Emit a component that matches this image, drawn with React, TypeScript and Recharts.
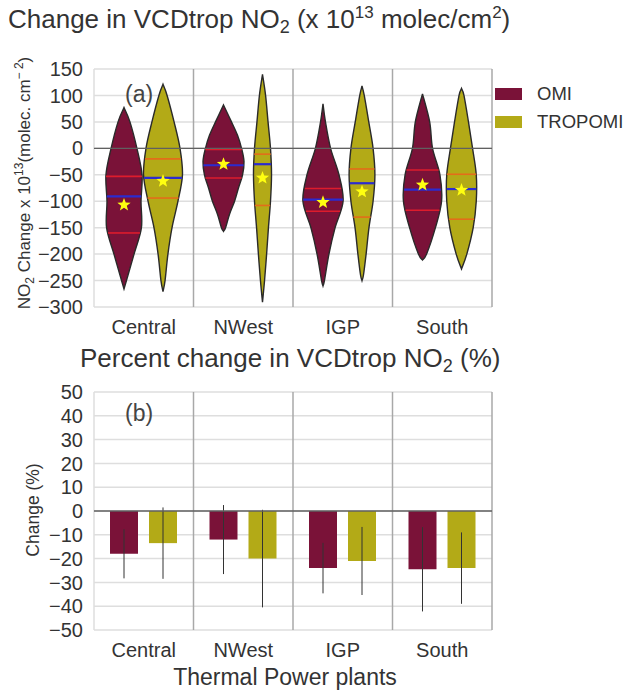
import React from "react";
import { BarChart, Bar, XAxis, YAxis, CartesianGrid, ReferenceLine, ErrorBar } from "recharts";

const categories = ["Central", "NWest", "IGP", "South"];

// (a) absolute change, x 10^13 molec/cm2
const omiMin = [-266, -157, -260, -211];
const omiMax = [77, 82, 84, 103];
const omiQ1 = [-160, -56, -119, -117];
const omiMedian = [-91, -32, -97, -78];
const omiQ3 = [-53, -2, -76, -41];
const omiMean = [-107, -30, -102, -69];

const tropMin = [-271, -291, -250, -228];
const tropMax = [121, 140, 118, 113];
const tropQ1 = [-94, -108, -130, -134];
const tropMedian = [-56, -30, -66, -77];
const tropQ3 = [-20, -11, -39, -49];
const tropMean = [-62, -56, -82, -79];

// violin outlines: [value, relative half width]
const omiProfiles = [
  [[77, 0], [50, 0.29], [0, 0.63], [-50, 0.88], [-100, 0.83], [-150, 0.85], [-200, 0.49], [-250, 0.12], [-266, 0]],
  [[82, 0], [50, 0.39], [25, 0.68], [0, 0.88], [-25, 1.0], [-50, 0.93], [-75, 0.73], [-100, 0.54], [-125, 0.29], [-150, 0.1], [-157, 0]],
  [[84, 0], [50, 0.12], [0, 0.37], [-50, 0.78], [-100, 0.98], [-150, 0.59], [-200, 0.29], [-250, 0.07], [-260, 0]],
  [[103, 0], [50, 0.35], [0, 0.49], [-50, 0.85], [-100, 0.93], [-150, 0.63], [-200, 0.2], [-211, 0]],
];
const tropProfiles = [
  [[121, 0], [100, 0.2], [50, 0.54], [0, 0.83], [-50, 0.95], [-100, 0.73], [-150, 0.44], [-200, 0.24], [-250, 0.1], [-271, 0]],
  [[140, 0], [100, 0.15], [50, 0.27], [0, 0.39], [-50, 0.44], [-100, 0.39], [-150, 0.29], [-200, 0.2], [-250, 0.1], [-291, 0]],
  [[118, 0], [100, 0.11], [50, 0.33], [0, 0.54], [-50, 0.63], [-100, 0.54], [-150, 0.34], [-200, 0.2], [-240, 0.07], [-250, 0]],
  [[113, 0], [100, 0.12], [50, 0.34], [0, 0.54], [-50, 0.72], [-100, 0.72], [-150, 0.57], [-200, 0.26], [-228, 0]],
];

const absTicks = [150, 100, 50, 0, -50, -100, -150, -200, -250, -300];

// (b) percent change
const omiPct = [-18, -12, -24, -24.5];
const omiPctErr = [10.3, 14.5, 10.6, 17.7];
const tropPct = [-13.5, -20, -21, -24];
const tropPctErr = [15, 20.5, 14.3, 15];
const pctTicks = [50, 40, 30, 20, 10, 0, -10, -20, -30, -40, -50];

const OMI = "#7a1238";
const TROP = "#b3aa17";
const FONT = "'Liberation Sans', Arial, Helvetica, sans-serif";
const TXT = "#333";

const violinRows = categories.map((c, i) => ({
  name: c,
  omi: [omiMin[i], omiMax[i]],
  trop: [tropMin[i], tropMax[i]],
}));

const pctRows = categories.map((c, i) => ({
  name: c,
  omi: omiPct[i],
  omiErr: omiPctErr[i],
  trop: tropPct[i],
  tropErr: tropPctErr[i],
}));

const minus = (v: number) => String(v).replace("-", "\u2212");

function halfAt(profile: number[][], v: number) {
  for (let i = 0; i < profile.length - 1; i++) {
    const [v1, d1] = profile[i];
    const [v2, d2] = profile[i + 1];
    if (v <= v1 && v >= v2) return d1 + ((v1 - v) / (v1 - v2)) * (d2 - d1);
  }
  return 0;
}

function spline(pts: number[][]) {
  let d = "";
  for (let i = 0; i < pts.length - 1; i++) {
    const p0 = pts[i - 1] || pts[i];
    const p1 = pts[i];
    const p2 = pts[i + 1];
    const p3 = pts[i + 2] || pts[i + 1];
    const c1x = p1[0] + (p2[0] - p0[0]) / 6;
    const c1y = p1[1] + (p2[1] - p0[1]) / 6;
    const c2x = p2[0] - (p3[0] - p1[0]) / 6;
    const c2y = p2[1] - (p3[1] - p1[1]) / 6;
    d += ` C${c1x},${c1y} ${c2x},${c2y} ${p2[0]},${p2[1]}`;
  }
  return d;
}

function starPath(cx: number, cy: number, r: number) {
  let d = "";
  for (let k = 0; k < 10; k++) {
    const rad = k % 2 === 0 ? r : r * 0.42;
    const a = -Math.PI / 2 + (k * Math.PI) / 5;
    d += (k === 0 ? "M" : "L") + (cx + rad * Math.cos(a)) + "," + (cy + rad * Math.sin(a));
  }
  return d + "Z";
}

const makeViolin = (profiles: number[][][], q1: number[], med: number[], q3: number[], mean: number[],
  fill: string, qColor: string, key: "omi" | "trop") => (props: any) => {
  const { x, y, width, height, payload } = props;
  const i = categories.indexOf(payload.name);
  const [lo, hi] = payload[key];
  const top = Math.min(y, y + height);
  const bottom = Math.max(y, y + height);
  const py = (v: number) => top + ((hi - v) / (hi - lo)) * (bottom - top);
  const cx = x + width / 2;
  const k = width * 0.732;
  const prof = profiles[i];
  const right = prof.map(([v, d]) => [cx + d * k, py(v)]);
  const left = prof.slice().reverse().map(([v, d]) => [cx - d * k, py(v)]);
  const outline = `M${right[0][0]},${right[0][1]}` + spline(right) + spline(left) + "Z";
  const hline = (v: number, color: string, sw: number) => {
    const h = halfAt(prof, v) * k;
    return <line x1={cx - h} x2={cx + h} y1={py(v)} y2={py(v)} stroke={color} strokeWidth={sw} />;
  };
  return (
    <g>
      <path d={outline} fill={fill} stroke="#2a2a2a" strokeWidth={1.4} />
      {hline(q3[i], qColor, 1.6)}
      {hline(q1[i], qColor, 1.6)}
      {hline(med[i], "#2b2bd0", 2.2)}
      <path d={starPath(cx, py(mean[i]), 7)} fill="#ffff10" />
    </g>
  );
};

const gridStroke = "#dedede";
const divStroke = "#a8a8a8";

// panel frame + dividers at category band edges
const frameLines = () => [
  <ReferenceLine key="l" x={categories[0]} position="start" stroke={gridStroke} strokeWidth={1.5} />,
  ...categories.slice(1).map((c) => (
    <ReferenceLine key={c} x={c} position="start" stroke={divStroke} strokeWidth={1.5} />
  )),
  <ReferenceLine key="r" x={categories[categories.length - 1]} position="end" stroke={divStroke} strokeWidth={1.5} />,
];

const tickStyle = { fontSize: 20, fill: TXT, fontFamily: FONT };

export default function App() {
  return (
    <div style={{ position: "absolute", left: 0, top: 0, width: 623, height: 695, background: "#fff", overflow: "hidden", fontFamily: FONT }}>
      {/* (a) violins */}
      <div style={{ position: "absolute", left: 0, top: 0 }}>
        <BarChart width={623} height={345} data={violinRows} margin={{ top: 69, right: 131, bottom: 8, left: 0 }} barSize={28} barGap={11}>
          <CartesianGrid vertical={false} stroke={gridStroke} strokeWidth={1.5} />
          <XAxis dataKey="name" axisLine={false} tickLine={false} tickSize={0} tickMargin={13} height={30}
            tick={tickStyle} interval={0} />
          <YAxis domain={[-300, 150]} ticks={absTicks} width={94} axisLine={false} tickLine={false} tickSize={0} tickMargin={11}
            interval={0} tick={tickStyle} tickFormatter={minus} />
          {frameLines()}
          <ReferenceLine y={0} stroke="#606060" strokeWidth={1.3} />
          <Bar dataKey="omi" isAnimationActive={false}
            shape={makeViolin(omiProfiles, omiQ1, omiMedian, omiQ3, omiMean, OMI, "#dd1c2c", "omi")} />
          <Bar dataKey="trop" isAnimationActive={false}
            shape={makeViolin(tropProfiles, tropQ1, tropMedian, tropQ3, tropMean, TROP, "#e36d1a", "trop")} />
        </BarChart>
      </div>

      {/* (b) percent bars */}
      <div style={{ position: "absolute", left: 0, top: 345 }}>
        <BarChart width={623} height={350} data={pctRows} margin={{ top: 47, right: 131, bottom: 30, left: 0 }} barSize={28} barGap={11}>
          <CartesianGrid vertical={false} stroke={gridStroke} strokeWidth={1.5} />
          <XAxis dataKey="name" axisLine={false} tickLine={false} tickSize={0} tickMargin={13} height={35}
            tick={tickStyle} interval={0} />
          <YAxis domain={[-50, 50]} ticks={pctTicks} width={94} axisLine={false} tickLine={false} tickSize={0} tickMargin={11}
            interval={0} tick={tickStyle} tickFormatter={minus} />
          {frameLines()}
          <Bar dataKey="omi" fill={OMI} isAnimationActive={false}>
            <ErrorBar dataKey="omiErr" width={0} stroke="#333" strokeWidth={1} direction="y" isAnimationActive={false} />
          </Bar>
          <Bar dataKey="trop" fill={TROP} isAnimationActive={false}>
            <ErrorBar dataKey="tropErr" width={0} stroke="#333" strokeWidth={1} direction="y" isAnimationActive={false} />
          </Bar>
          <ReferenceLine y={0} stroke="#606060" strokeWidth={1.3} />
        </BarChart>
      </div>

      {/* titles, labels, legend */}
      <svg width={623} height={695} style={{ position: "absolute", left: 0, top: 0, pointerEvents: "none" }} fontFamily={FONT}>
        <text x={8} y={28} fontSize={26} fill={TXT}>
          Change in VCDtrop NO<tspan fontSize={18} dy={5}>2</tspan><tspan dy={-5}> (x 10</tspan>
          <tspan fontSize={17} dy={-10}>13</tspan><tspan dy={10}> molec/cm</tspan>
          <tspan fontSize={17} dy={-10}>2</tspan><tspan dy={10}>)</tspan>
        </text>
        <text x={80} y={367} fontSize={26} fill={TXT}>
          Percent change in VCDtrop NO<tspan fontSize={18} dy={5}>2</tspan><tspan dy={-5}> (%)</tspan>
        </text>
        <text x={125} y={102} fontSize={23} fill="#444">(a)</text>
        <text x={125} y={421} fontSize={23} fill="#444">(b)</text>
        <text transform="rotate(-90 30 183)" x={30} y={183} fontSize={17} fill={TXT} textAnchor="middle">
          NO<tspan fontSize={12} dy={4}>2</tspan><tspan dy={-4}> Change x 10</tspan>
          <tspan fontSize={12} dy={-7}>13</tspan><tspan dy={7}>(molec. cm</tspan>
          <tspan fontSize={12} dy={-7}>− 2</tspan><tspan dy={7}>)</tspan>
        </text>
        <text transform="rotate(-90 39 510)" x={39} y={510} fontSize={17.5} fill={TXT} textAnchor="middle">Change (%)</text>
        <text x={285} y={685} fontSize={23} fill={TXT} textAnchor="middle">Thermal Power plants</text>

        <rect x={495} y={88} width={27} height={12} fill={OMI} />
        <text x={537} y={100} fontSize={18.5} fill={TXT}>OMI</text>
        <rect x={495} y={116} width={27} height={12} fill={TROP} />
        <text x={537} y={128} fontSize={18.5} fill={TXT}>TROPOMI</text>
      </svg>
    </div>
  );
}
